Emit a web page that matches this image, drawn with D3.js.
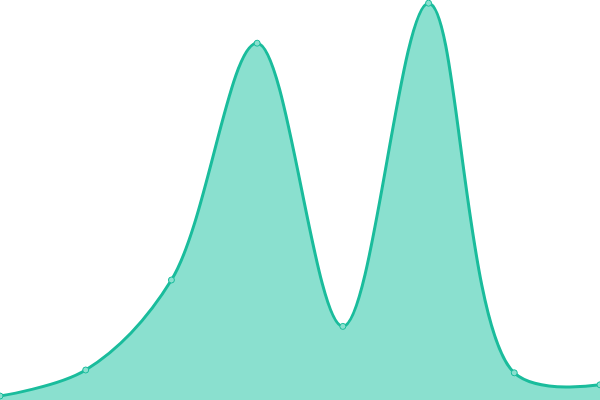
<!DOCTYPE html>
<html>
<head>
<meta charset="utf-8">
<script src="https://cdn.jsdelivr.net/npm/d3@7"></script>
<style>
  html, body { margin: 0; padding: 0; background: #fff; overflow: hidden; }
</style>
</head>
<body>
<script>
// chart values
var steps = [0, 1, 2, 3, 4, 5, 6, 7];
var values = [1, 7.5, 30, 89.2, 18.4, 99.2, 6.8, 3.8];

var width = 600,
    height = 400,
    lineColor = "#1abc9c",
    areaColor = "#8ae0cf";

var dataset = steps.map(function(s, i) {
    return { step: s, value: values[i] };
});

var xScale = d3.scaleLinear()
    .domain(d3.extent(steps))
    .range([0, width]);

var yScale = d3.scaleLinear()
    .domain([0, 100])
    .range([height, 0]);

var svg = d3.select("body")
    .append("svg")
    .attr("width", width)
    .attr("height", height);

var area = d3.area()
    .x(function(d) { return xScale(d.step); })
    .y0(height)
    .y1(function(d) { return yScale(d.value); })
    .curve(d3.curveCatmullRom);

var line = d3.line()
    .x(function(d) { return xScale(d.step); })
    .y(function(d) { return yScale(d.value); })
    .curve(d3.curveCatmullRom);

svg.append("path")
    .datum(dataset)
    .attr("d", area)
    .attr("fill", areaColor);

svg.append("path")
    .datum(dataset)
    .attr("d", line)
    .attr("fill", "none")
    .attr("stroke", lineColor)
    .attr("stroke-width", 3);

svg.selectAll("circle")
    .data(dataset)
    .enter()
    .append("circle")
    .attr("cx", function(d) { return xScale(d.step); })
    .attr("cy", function(d) { return yScale(d.value); })
    .attr("r", 3)
    .attr("fill", areaColor)
    .attr("stroke", lineColor)
    .attr("stroke-width", 1);
</script>
</body>
</html>
